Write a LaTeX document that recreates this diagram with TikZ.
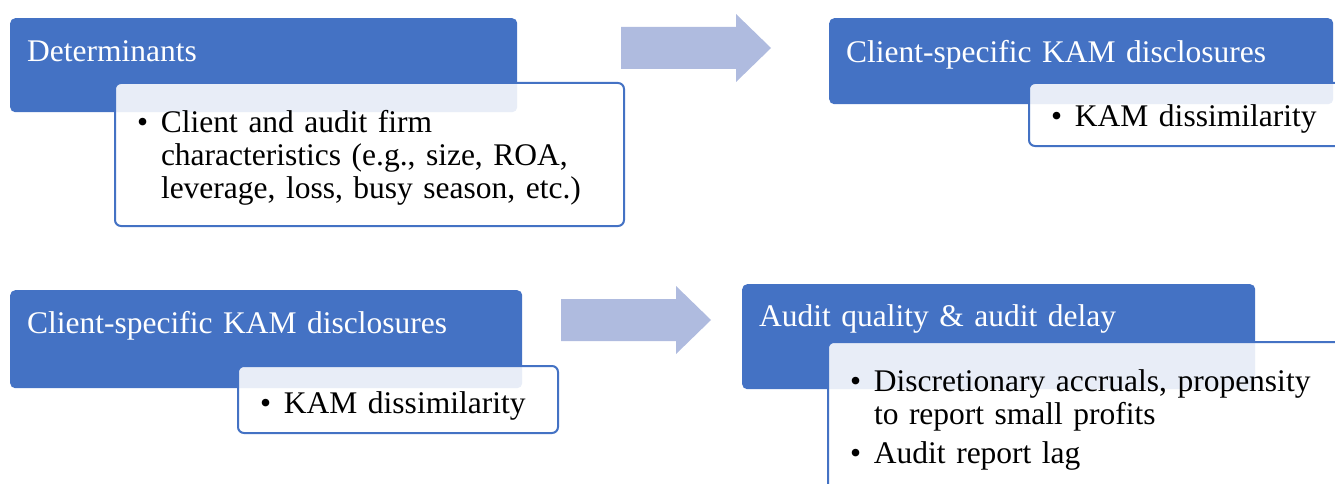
\documentclass[tikz,border=0pt]{standalone}
\usepackage{fontspec}
\setmainfont{Liberation Serif}
\usetikzlibrary{positioning}
\definecolor{kamblue}{RGB}{68,114,196}
\definecolor{kamarrow}{RGB}{175,187,223}
\newcommand{\bitem}[1]{\noindent\makebox[24pt][l]{\textbullet}\parbox[t]{\dimexpr\linewidth-24pt\relax}{\raggedright #1}}

\begin{document}
\begin{tikzpicture}[
x=1pt,
y=-1pt,
head/.style={
  fill=kamblue,
  draw=none,
  rounded corners=5pt,
  anchor=north west,
  inner xsep=17pt,
  inner ysep=0pt,
  align=left,
  text=white,
  font=\fontsize{31.5}{33}\selectfont
  },
body/.style={
  draw=kamblue,
  line width=2pt,
  fill=white,
  fill opacity=0.88,
  text opacity=1,
  rounded corners=6pt,
  anchor=north west,
  inner xsep=22pt,
  inner ysep=0pt,
  align=left,
  font=\fontsize{31.5}{33}\selectfont\setlength{\parskip}{10pt}
  },
bigarrow/.style={
  fill=kamarrow,
  draw=none
  }
]
\useasboundingbox (0,0) rectangle (1335,484);
\clip (0,0) rectangle (1335,484);

\node[head, text width=473pt, text height=43pt, text depth=51pt] (det) at (10,18) {Determinants};
\node[body, text width=465pt, text height=49pt, text depth=94pt] (detbody) at (114,82)
  {\bitem{Client and audit firm\newline characteristics (e.g., size, ROA,\newline leverage, loss, busy season, etc.)}};

\node[head, text width=470pt, text height=44pt, text depth=42pt] (kam) at (829,18) {Client-specific KAM disclosures};
\node[body, text width=273pt, text height=44pt, text depth=19pt] (kambody) at (1028,82) {\bitem{KAM dissimilarity}};

\node[head, text width=478pt, text height=43pt, text depth=55pt] (kamb) at (10,290) {Client-specific KAM disclosures};
\node[body, text width=276pt, text height=47pt, text depth=20pt] (kambbody) at (237,365) {\bitem{KAM dissimilarity}};

\node[head, text width=479pt, text height=42pt, text depth=63pt] (aq) at (742,284) {Audit quality \& audit delay};
\node[body, text width=474pt, text height=49pt, text depth=110pt] (aqbody) at (827,341)
  {\bitem{Discretionary accruals, propensity\newline to report small profits}\par\bitem{Audit report lag}};

\foreach \ax/\ay in {621/48,561/320}
  \fill[bigarrow] (\ax,\ay-21) -- ++(115,0) -- ++(0,-13) -- ++(35,34) -- ++(-35,34) -- ++(0,-13) -- ++(-115,0) -- cycle;
\end{tikzpicture}
\end{document}
